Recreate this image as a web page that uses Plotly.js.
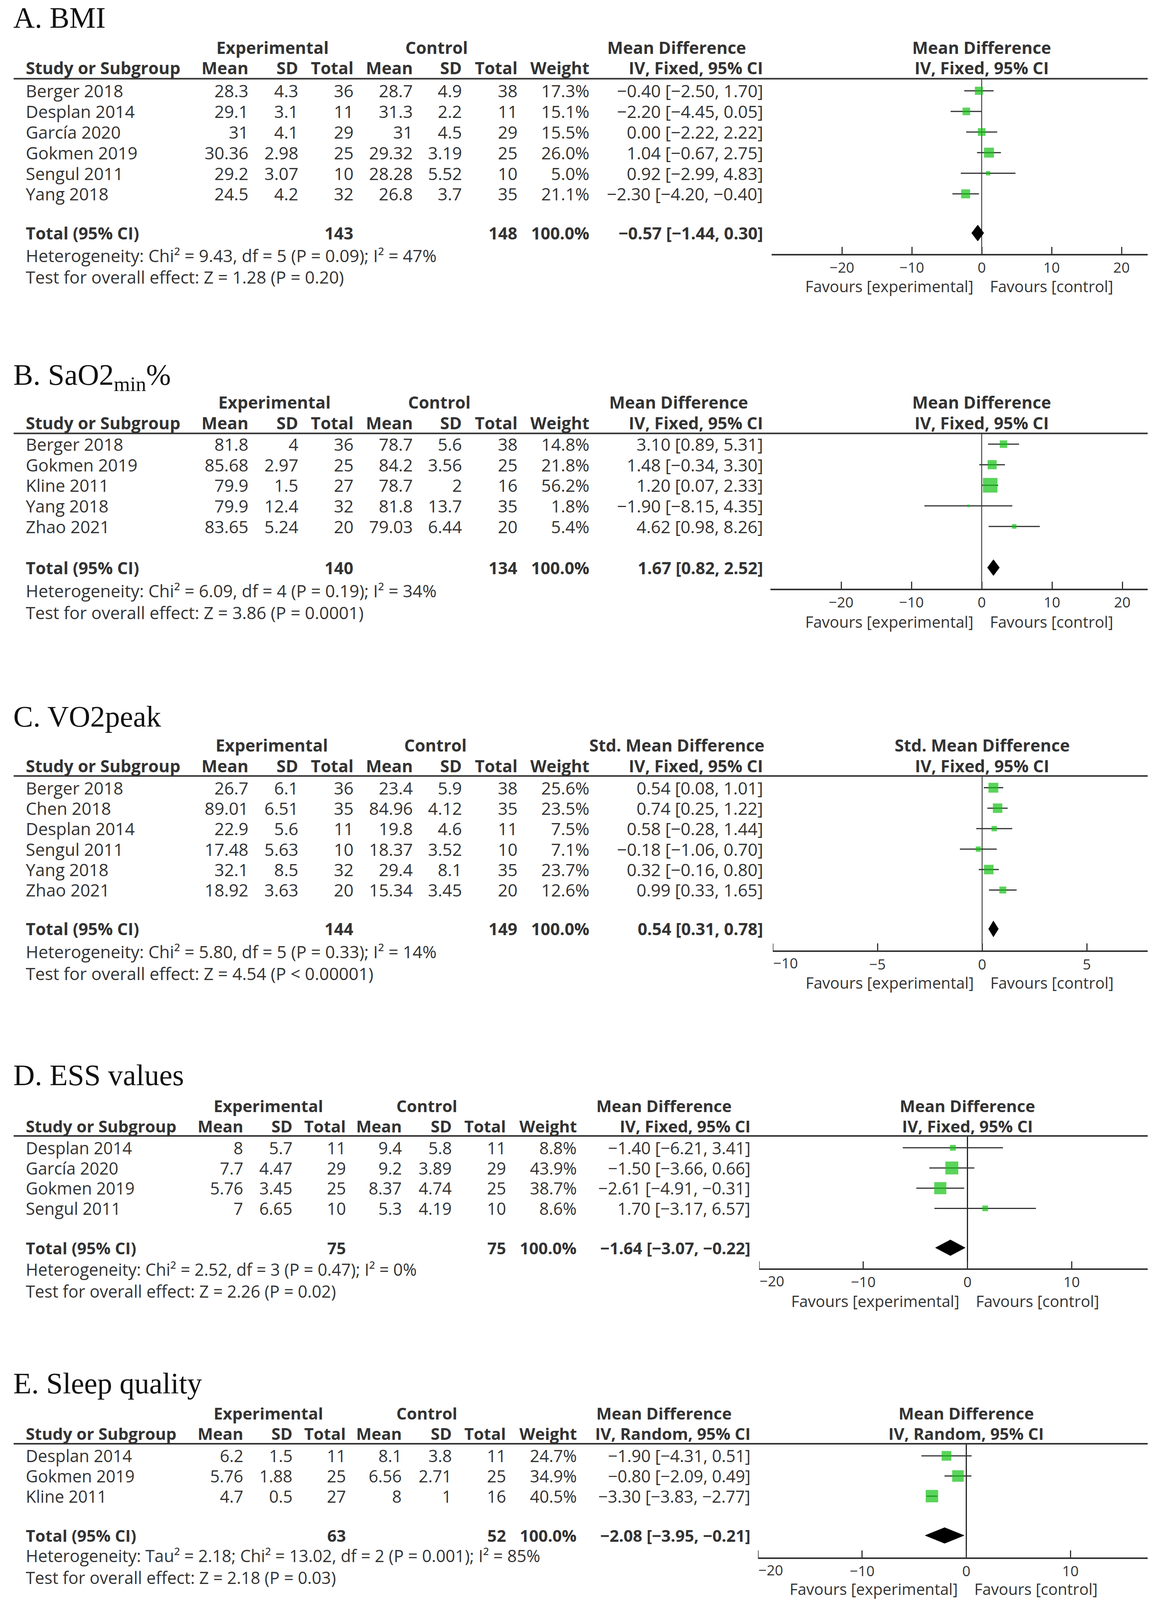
<!DOCTYPE html>
<html><head><meta charset="utf-8">
<script src="https://cdn.plot.ly/plotly-3.0.1.min.js"></script>
<style>html,body{margin:0;padding:0;background:#fff;overflow:hidden;}#chart{width:100vw;height:100vh;}</style>
</head><body><div id="chart"></div>
<script>
// ================= DATA =================
// A. BMI
const A_title = "A. BMI";
const A_studies = ["Berger 2018","Desplan 2014","García 2020","Gokmen 2019","Sengul 2011","Yang 2018"];
const A_expMean = [28.3, 29.1, 31, 30.36, 29.2, 24.5];
const A_expSD   = [4.3, 3.1, 4.1, 2.98, 3.07, 4.2];
const A_expN    = [36, 11, 29, 25, 10, 32];
const A_ctlMean = [28.7, 31.3, 31, 29.32, 28.28, 26.8];
const A_ctlSD   = [4.9, 2.2, 4.5, 3.19, 5.52, 3.7];
const A_ctlN    = [38, 11, 29, 25, 10, 35];
const A_weight  = [17.3, 15.1, 15.5, 26.0, 5.0, 21.1];
const A_est     = [-0.40, -2.20, 0.00, 1.04, 0.92, -2.30];
const A_lo      = [-2.50, -4.45, -2.22, -0.67, -2.99, -4.20];
const A_hi      = [1.70, 0.05, 2.22, 2.75, 4.83, -0.40];
const A_totalN  = [143, 148];
const A_total   = [-0.57, -1.44, 0.30];
const A_effect  = "Mean Difference";
const A_method  = "IV, Fixed, 95% CI";
const A_het     = "Heterogeneity: Chi² = 9.43, df = 5 (P = 0.09); I² = 47%";
const A_test    = "Test for overall effect: Z = 1.28 (P = 0.20)";
const A_ticks   = [-20, -10, 0, 10, 20];

// B. SaO2min%
const B_title = "B. SaO2<sub>min</sub>%";
const B_studies = ["Berger 2018","Gokmen 2019","Kline 2011","Yang 2018","Zhao 2021"];
const B_expMean = [81.8, 85.68, 79.9, 79.9, 83.65];
const B_expSD   = [4, 2.97, 1.5, 12.4, 5.24];
const B_expN    = [36, 25, 27, 32, 20];
const B_ctlMean = [78.7, 84.2, 78.7, 81.8, 79.03];
const B_ctlSD   = [5.6, 3.56, 2, 13.7, 6.44];
const B_ctlN    = [38, 25, 16, 35, 20];
const B_weight  = [14.8, 21.8, 56.2, 1.8, 5.4];
const B_est     = [3.10, 1.48, 1.20, -1.90, 4.62];
const B_lo      = [0.89, -0.34, 0.07, -8.15, 0.98];
const B_hi      = [5.31, 3.30, 2.33, 4.35, 8.26];
const B_totalN  = [140, 134];
const B_total   = [1.67, 0.82, 2.52];
const B_effect  = "Mean Difference";
const B_method  = "IV, Fixed, 95% CI";
const B_het     = "Heterogeneity: Chi² = 6.09, df = 4 (P = 0.19); I² = 34%";
const B_test    = "Test for overall effect: Z = 3.86 (P = 0.0001)";
const B_ticks   = [-20, -10, 0, 10, 20];

// C. VO2peak
const C_title = "C. VO2peak";
const C_studies = ["Berger 2018","Chen 2018","Desplan 2014","Sengul 2011","Yang 2018","Zhao 2021"];
const C_expMean = [26.7, 89.01, 22.9, 17.48, 32.1, 18.92];
const C_expSD   = [6.1, 6.51, 5.6, 5.63, 8.5, 3.63];
const C_expN    = [36, 35, 11, 10, 32, 20];
const C_ctlMean = [23.4, 84.96, 19.8, 18.37, 29.4, 15.34];
const C_ctlSD   = [5.9, 4.12, 4.6, 3.52, 8.1, 3.45];
const C_ctlN    = [38, 35, 11, 10, 35, 20];
const C_weight  = [25.6, 23.5, 7.5, 7.1, 23.7, 12.6];
const C_est     = [0.54, 0.74, 0.58, -0.18, 0.32, 0.99];
const C_lo      = [0.08, 0.25, -0.28, -1.06, -0.16, 0.33];
const C_hi      = [1.01, 1.22, 1.44, 0.70, 0.80, 1.65];
const C_totalN  = [144, 149];
const C_total   = [0.54, 0.31, 0.78];
const C_effect  = "Std. Mean Difference";
const C_method  = "IV, Fixed, 95% CI";
const C_het     = "Heterogeneity: Chi² = 5.80, df = 5 (P = 0.33); I² = 14%";
const C_test    = "Test for overall effect: Z = 4.54 (P < 0.00001)";
const C_ticks   = [-10, -5, 0, 5];

// D. ESS values
const D_title = "D. ESS values";
const D_studies = ["Desplan 2014","García 2020","Gokmen 2019","Sengul 2011"];
const D_expMean = [8, 7.7, 5.76, 7];
const D_expSD   = [5.7, 4.47, 3.45, 6.65];
const D_expN    = [11, 29, 25, 10];
const D_ctlMean = [9.4, 9.2, 8.37, 5.3];
const D_ctlSD   = [5.8, 3.89, 4.74, 4.19];
const D_ctlN    = [11, 29, 25, 10];
const D_weight  = [8.8, 43.9, 38.7, 8.6];
const D_est     = [-1.40, -1.50, -2.61, 1.70];
const D_lo      = [-6.21, -3.66, -4.91, -3.17];
const D_hi      = [3.41, 0.66, -0.31, 6.57];
const D_totalN  = [75, 75];
const D_total   = [-1.64, -3.07, -0.22];
const D_effect  = "Mean Difference";
const D_method  = "IV, Fixed, 95% CI";
const D_het     = "Heterogeneity: Chi² = 2.52, df = 3 (P = 0.47); I² = 0%";
const D_test    = "Test for overall effect: Z = 2.26 (P = 0.02)";
const D_ticks   = [-20, -10, 0, 10];

// E. Sleep quality
const E_title = "E. Sleep quality";
const E_studies = ["Desplan 2014","Gokmen 2019","Kline 2011"];
const E_expMean = [6.2, 5.76, 4.7];
const E_expSD   = [1.5, 1.88, 0.5];
const E_expN    = [11, 25, 27];
const E_ctlMean = [8.1, 6.56, 8];
const E_ctlSD   = [3.8, 2.71, 1];
const E_ctlN    = [11, 25, 16];
const E_weight  = [24.7, 34.9, 40.5];
const E_est     = [-1.90, -0.80, -3.30];
const E_lo      = [-4.31, -2.09, -3.83];
const E_hi      = [0.51, 0.49, -2.77];
const E_totalN  = [63, 52];
const E_total   = [-2.08, -3.95, -0.21];
const E_effect  = "Mean Difference";
const E_method  = "IV, Random, 95% CI";
const E_het     = "Heterogeneity: Tau² = 2.18; Chi² = 13.02, df = 2 (P = 0.001); I² = 85%";
const E_test    = "Test for overall effect: Z = 2.18 (P = 0.03)";
const E_ticks   = [-20, -10, 0, 10];

const groupHeaders = ["Experimental", "Control"];
const colHeaders = ["Study or Subgroup","Mean","SD","Total","Mean","SD","Total","Weight"];
const totalLabel = "Total (95% CI)";
const totalWeight = 100.0;
const favLeft = "Favours [experimental]";
const favRight = "Favours [control]";

// ================= LAYOUT (reference pixel geometry) =================
const REF_W = 2968, REF_H = 4168;
const W = window.innerWidth || REF_W;
const H = window.innerHeight || REF_H;
const PX = x => x / REF_W;
const PY = y => 1 - y / REF_H;
const colsABC = [637, 765, 906, 1058, 1184, 1326, 1510, 1955];
const colsDE  = [624, 750, 887, 1030, 1158, 1297, 1478, 1923];
const geom = [
  {fs:1.0,   title:46,  h1:124,   h2:177,   line:205,   r0:236.5, dy:53.7, gap:1.9,  het:665,  test:721,  axis:661.5, fav:745,  zero:2514,   ppu:17.9,  xl:1976, xr:2939, cols:colsABC, hc:[698,1118,1733], endLabel:false},
  {fs:1.0,   title:982, h1:1047.5,h2:1101.5,line:1129,  r0:1157,  dy:53.6, gap:2.0,  het:1539, test:1596, axis:1533,  fav:1619, zero:2514,   ppu:18.0,  xl:1973, xr:2939, cols:colsABC, hc:[703,1125,1738], endLabel:false},
  {fs:1.0,   title:1866,h1:1941.5,h2:1995,  line:2021.5,r0:2052,  dy:53.3, gap:1.9,  het:2479, test:2536, axis:2476,  fav:2560, zero:2515,   ppu:53.6,  xl:null, xr:2939, cols:colsABC, hc:[696,1115,1733], endLabel:true},
  {fs:0.975, title:2800,h1:2880.5,h2:2933,  line:2959,  r0:2990,  dy:52.6, gap:1.95, het:3307, test:3364, axis:3304,  fav:3389, zero:2477.5, ppu:26.68, xl:null, xr:2939, cols:colsDE,  hc:[687,1093,1700], endLabel:true},
  {fs:0.975, title:3603,h1:3681,  h2:3734,  line:3761,  r0:3792.5,dy:52.5, gap:1.95, het:4053, test:4109, axis:4057,  fav:4139, zero:2474.5, ppu:26.67, xl:null, xr:2939, cols:colsDE,  hc:[687,1093,1700], endLabel:true}
];

const panels = [
  {title:A_title, studies:A_studies, em:A_expMean, es:A_expSD, en:A_expN, cm:A_ctlMean, cs:A_ctlSD, cn:A_ctlN, w:A_weight, est:A_est, lo:A_lo, hi:A_hi, tn:A_totalN, tot:A_total, effect:A_effect, method:A_method, het:A_het, test:A_test, ticks:A_ticks},
  {title:B_title, studies:B_studies, em:B_expMean, es:B_expSD, en:B_expN, cm:B_ctlMean, cs:B_ctlSD, cn:B_ctlN, w:B_weight, est:B_est, lo:B_lo, hi:B_hi, tn:B_totalN, tot:B_total, effect:B_effect, method:B_method, het:B_het, test:B_test, ticks:B_ticks},
  {title:C_title, studies:C_studies, em:C_expMean, es:C_expSD, en:C_expN, cm:C_ctlMean, cs:C_ctlSD, cn:C_ctlN, w:C_weight, est:C_est, lo:C_lo, hi:C_hi, tn:C_totalN, tot:C_total, effect:C_effect, method:C_method, het:C_het, test:C_test, ticks:C_ticks},
  {title:D_title, studies:D_studies, em:D_expMean, es:D_expSD, en:D_expN, cm:D_ctlMean, cs:D_ctlSD, cn:D_ctlN, w:D_weight, est:D_est, lo:D_lo, hi:D_hi, tn:D_totalN, tot:D_total, effect:D_effect, method:D_method, het:D_het, test:D_test, ticks:D_ticks},
  {title:E_title, studies:E_studies, em:E_expMean, es:E_expSD, en:E_expN, cm:E_ctlMean, cs:E_ctlSD, cn:E_ctlN, w:E_weight, est:E_est, lo:E_lo, hi:E_hi, tn:E_totalN, tot:E_total, effect:E_effect, method:E_method, het:E_het, test:E_test, ticks:E_ticks}
];

// ================= STYLE =================
const SANS = "Open Sans, Noto Sans, sans-serif";
const SERIF = "Liberation Serif, Times New Roman, serif";
const TXT = "#333333";
const GREEN = "#14c214";
const BODY = 44, HEAD = 43, NOTE = 44, TICK = 37, FAV = 40, TITLE = 76;
const SQK = 5.0;

const MINUS = "\u2212";
const f2 = v => (v < 0 ? MINUS : "") + Math.abs(v).toFixed(2);
const ciStr = (e, l, h) => f2(e) + " [" + f2(l) + ", " + f2(h) + "]";
const num = v => (v < 0 ? MINUS : "") + String(Math.abs(v));
const B = t => "<b>" + t + "</b>";

const traces = [];
const annotations = [];
const shapes = [];
const layout = {
  width: W, height: H,
  margin: {l:0, r:0, t:0, b:0},
  paper_bgcolor: "#ffffff", plot_bgcolor: "rgba(0,0,0,0)",
  showlegend: false,
  font: {family: SANS, color: TXT, size: BODY},
  annotations: annotations, shapes: shapes
};

function ann(text, x, y, opt, size) {
  annotations.push(Object.assign({
    text: text, x: x, y: y, xref: "paper", yref: "paper",
    xanchor: "left", yanchor: "middle", showarrow: false,
    font: {family: SANS, size: size || BODY, color: TXT}, borderpad: 0
  }, opt || {}));
}

panels.forEach((p, k) => {
  const g = geom[k];
  const s = k === 0 ? "" : String(k + 1);
  const xa = "x" + s, ya = "y" + s;
  const n = p.studies.length;
  const idx = p.studies.map((_, i) => i);
  const tr = (n - 1) + g.gap;           // row index of the pooled total
  const fb = BODY * g.fs, fh = HEAD * g.fs, fn = NOTE * g.fs;

  const xLeft = g.endLabel ? p.ticks[0] : (g.xl - g.zero) / g.ppu;
  const xRight = (g.xr - g.zero) / g.ppu;
  const domL = g.zero + xLeft * g.ppu;

  layout["xaxis" + s] = {
    domain: [PX(domL), PX(g.xr)],
    range: [xLeft, xRight],
    anchor: ya, showgrid: false, fixedrange: true,
    zeroline: true, zerolinecolor: "#222", zerolinewidth: 2.5,
    showline: true, linecolor: "#333", linewidth: 4,
    ticks: "inside", ticklen: 18, tickwidth: 3, tickcolor: "#333",
    tickmode: "array",
    tickvals: g.endLabel ? p.ticks.slice(1) : p.ticks,
    ticktext: (g.endLabel ? p.ticks.slice(1) : p.ticks).map(num),
    tickfont: {family: SANS, size: TICK, color: TXT}
  };
  layout["yaxis" + s] = {
    domain: [PY(g.axis), PY(g.line)],
    range: [(g.axis - g.r0) / g.dy, (g.line - g.r0) / g.dy],
    visible: false, fixedrange: true, showgrid: false, zeroline: false
  };

  // study squares with CI lines
  traces.push({
    type: "scatter", mode: "markers", xaxis: xa, yaxis: ya,
    x: p.est, y: idx, hoverinfo: "skip", cliponaxis: false,
    marker: {symbol: "square", color: GREEN, size: p.w.map(v => SQK * Math.sqrt(v)), line: {width: 0}},
    error_x: {type: "data", symmetric: false,
      array: p.hi.map((h, i) => h - p.est[i]),
      arrayminus: p.lo.map((l, i) => p.est[i] - l),
      color: "#333", thickness: 3, width: 0}
  });

  // pooled diamond
  const dh = 0.39;
  traces.push({
    type: "scatter", mode: "lines", xaxis: xa, yaxis: ya,
    x: [p.tot[1], p.tot[0], p.tot[2], p.tot[0], p.tot[1]],
    y: [tr, tr - dh, tr, tr + dh, tr],
    fill: "toself", fillcolor: "#000", line: {color: "#000", width: 1},
    hoverinfo: "skip"
  });

  // header rule
  shapes.push({type: "line", xref: "paper", yref: "paper",
    x0: PX(35), x1: PX(2939), y0: PY(g.line), y1: PY(g.line),
    line: {color: "#333", width: 4}});

  // title
  ann(p.title, PX(33), PY(g.title), {font: {family: SERIF, size: TITLE, color: "#111"}});

  // table headers
  ann(B(groupHeaders[0]), PX(g.hc[0]), PY(g.h1), {xanchor: "center"}, fh);
  ann(B(groupHeaders[1]), PX(g.hc[1]), PY(g.h1), {xanchor: "center"}, fh);
  ann(B(p.effect), PX(g.hc[2]), PY(g.h1), {xanchor: "center"}, fh);
  ann(B(colHeaders[0]), PX(65), PY(g.h2), {}, fh);
  for (let c = 1; c < colHeaders.length; c++) {
    ann(B(colHeaders[c]), PX(g.cols[c - 1]), PY(g.h2), {xanchor: "right"}, fh);
  }
  ann(B(p.method), PX(g.cols[7]), PY(g.h2), {xanchor: "right"}, fh);
  // plot headers (centred on the zero line)
  ann(B(p.effect), 0, PY(g.h1), {xref: xa, xanchor: "center"}, fh);
  ann(B(p.method), 0, PY(g.h2), {xref: xa, xanchor: "center"}, fh);

  // study rows
  p.studies.forEach((st, i) => {
    ann(st, PX(65), i, {yref: ya}, fb);
    const vals = [num(p.em[i]), num(p.es[i]), String(p.en[i]), num(p.cm[i]), num(p.cs[i]), String(p.cn[i]),
                  p.w[i].toFixed(1) + "%", ciStr(p.est[i], p.lo[i], p.hi[i])];
    vals.forEach((v, c) => ann(v, PX(g.cols[c]), i, {yref: ya, xanchor: "right"}, fb));
  });

  // total row
  ann(B(totalLabel), PX(65), tr, {yref: ya}, fh);
  ann(B(String(p.tn[0])), PX(g.cols[2]), tr, {yref: ya, xanchor: "right"}, fh);
  ann(B(String(p.tn[1])), PX(g.cols[5]), tr, {yref: ya, xanchor: "right"}, fh);
  ann(B(totalWeight.toFixed(1) + "%"), PX(g.cols[6]), tr, {yref: ya, xanchor: "right"}, fh);
  ann(B(ciStr(p.tot[0], p.tot[1], p.tot[2])), PX(g.cols[7]), tr, {yref: ya, xanchor: "right"}, fh);

  // heterogeneity + overall effect
  ann(p.het, PX(65), PY(g.het), {}, fn);
  ann(p.test, PX(65), PY(g.test), {}, fn);

  // first tick at the very start of the axis: tick mark + left-aligned label
  if (g.endLabel) {
    shapes.push({type: "line", xref: xa, yref: "paper",
      x0: p.ticks[0], x1: p.ticks[0], y0: PY(g.axis), y1: PY(g.axis - 18),
      line: {color: "#333", width: 3}});
    ann(num(p.ticks[0]), PX(domL), PY(g.axis + 32), {xanchor: "left"}, TICK);
  }

  // favours labels
  ann(favLeft, 0, PY(g.fav), {xref: xa, xanchor: "right", xshift: -20}, FAV);
  ann(favRight, 0, PY(g.fav), {xref: xa, xanchor: "left", xshift: 20}, FAV);
});

Plotly.newPlot("chart", traces, layout, {displayModeBar: false, staticPlot: true});
</script>
</body></html>
